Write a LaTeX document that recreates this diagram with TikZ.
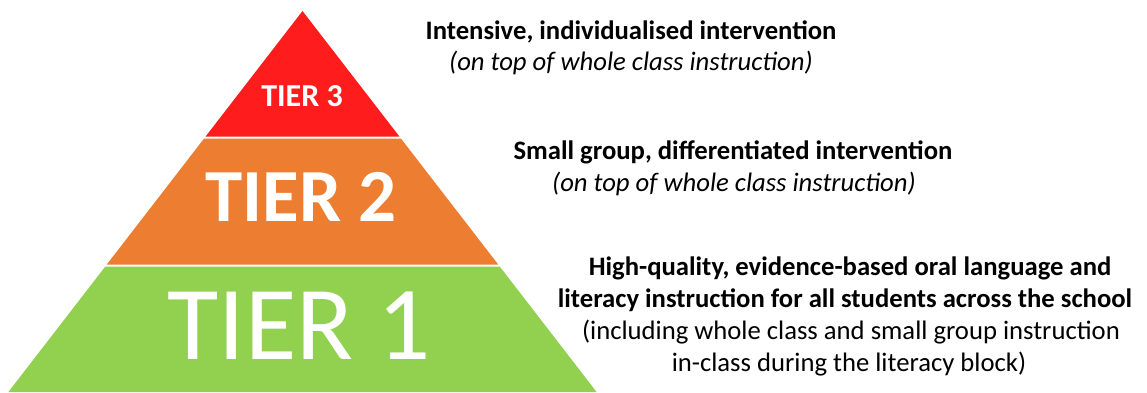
\documentclass[tikz,border=0pt]{standalone}
\usepackage{fontspec}
\setmainfont{Carlito}
\definecolor{tierred}{HTML}{FF1C1C}
\definecolor{tierorange}{HTML}{ED7D31}
\definecolor{tiergreen}{HTML}{92D050}
\begin{document}
\begin{tikzpicture}[x=1pt,y=-1pt,
  tierlabel/.style={text=white,inner sep=0pt,anchor=base},
  desc/.style={text=black,inner sep=0pt,anchor=base,font=\fontsize{26.67}{32}\selectfont},
]
\useasboundingbox (0,0) rectangle (1147,392);
\fill[white] (0,0) rectangle (1147,392);
% pyramid tiers
\fill[tierred] (302.5,11) -- (399.4,136.5) -- (205.6,136.5) -- cycle;
\fill[tierorange] (204.1,138.5) -- (400.9,138.5) -- (498.2,264.5) -- (106.8,264.5) -- cycle;
\fill[tiergreen] (105.3,266.5) -- (499.7,266.5) -- (596.6,392) -- (8.4,392) -- cycle;
% tier labels
\node[tierlabel,font=\fontsize{32}{36}\selectfont\bfseries] (t3) at (302,106) {TIER 3};
\node[tierlabel,font=\fontsize{75}{80}\selectfont\bfseries] (t2) at (301,221.7) {TIER 2};
\node[tierlabel,font=\fontsize{105}{110}\selectfont] (t1) at (299,359.3) {TIER 1};
% descriptions
\node[desc,font=\fontsize{26.67}{32}\selectfont\bfseries] (d1a) at (631,39.3) {Intensive, individualised intervention};
\node[desc,font=\fontsize{26.67}{32}\selectfont\itshape] (d1b) at (631,70) {(on top of whole class instruction)};
\node[desc,font=\fontsize{26.67}{32}\selectfont\bfseries] (d2a) at (733,159) {Small group, differentiated intervention};
\node[desc,font=\fontsize{26.67}{32}\selectfont\itshape] (d2b) at (734,191) {(on top of whole class instruction)};
\node[desc,font=\fontsize{26.67}{32}\selectfont\bfseries] (d3a) at (850,275) {High-quality, evidence-based oral language and};
\node[desc,font=\fontsize{26.67}{32}\selectfont\bfseries] (d3b) at (845,307) {literacy instruction for all students across the school};
\node[desc] (d3c) at (851,339) {(including whole class and small group instruction};
\node[desc] (d3d) at (849,371) {in-class during the literacy block)};
\end{tikzpicture}
\end{document}
